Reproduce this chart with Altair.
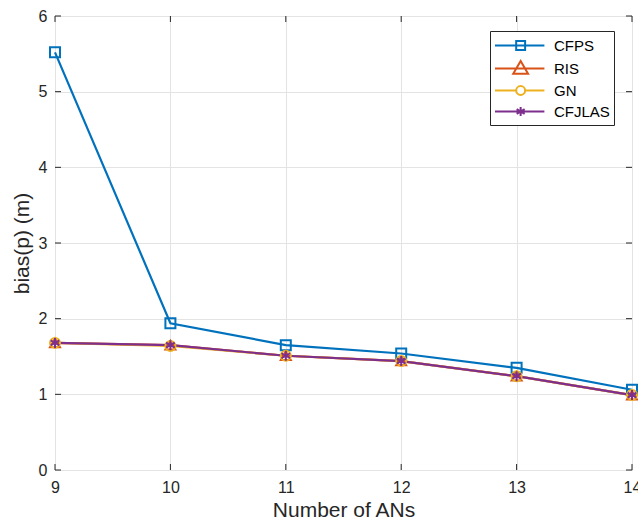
import altair as alt
import pandas as pd

x_vals = [9, 10, 11, 12, 13, 14]
series_names = ["CFPS", "RIS", "GN", "CFJLAS"]
cfps = [5.52, 1.94, 1.65, 1.54, 1.35, 1.06]
ris = [1.68, 1.65, 1.51, 1.44, 1.24, 0.99]
gn = [1.68, 1.64, 1.51, 1.44, 1.24, 0.99]
cfjlas = [1.68, 1.65, 1.51, 1.44, 1.24, 0.99]
colors = ["#0072BD", "#D95319", "#EDB120", "#7E2F8E"]
x_ticks = [9, 10, 11, 12, 13, 14]
y_ticks = [0, 1, 2, 3, 4, 5, 6]

rows = []
for name, vals in zip(series_names, [cfps, ris, gn, cfjlas]):
    for xv, yv in zip(x_vals, vals):
        rows.append({"x": xv, "y": yv, "series": name, "legend_series": name,
                     "order": series_names.index(name)})
df = pd.DataFrame(rows)

W, H = 577, 454
AX = "#262626"
FONT = "Liberation Sans"

asterisk = "M0,-1L0,1M-0.87,-0.5L0.87,0.5M-0.87,0.5L0.87,-0.5"
plot_shapes = ["square", "triangle-up", "circle", asterisk]

# legend symbols: line segment plus marker (unit = sqrt(size)/2)
leg_sq = "M-1,0L4.2,0M1.23,-0.47L2.17,-0.47L2.17,0.47L1.23,0.47Z"
leg_tri = "M-1,0L4.2,0M1.7,-0.8L2.48,0.55L0.92,0.55Z"
leg_circ = "M-1,0L1.23,0M2.17,0L4.2,0M1.23,0A0.47,0.47 0 1,0 2.17,0A0.47,0.47 0 1,0 1.23,0"
leg_ast = "M-1,0L4.2,0M1.7,-0.48L1.7,0.48M1.28,-0.24L2.12,0.24M1.28,0.24L2.12,-0.24"
legend_shapes = [leg_sq, leg_tri, leg_circ, leg_ast]

xscale = alt.Scale(domain=[9, 14], nice=False, zero=False)
yscale = alt.Scale(domain=[0, 6], nice=False)

xaxis = alt.Axis(values=x_ticks, title="Number of ANs", grid=True, gridColor="#e3e3e3",
                 gridWidth=1, tickSize=0, domain=False, labelPadding=9, labelFlush=False,
                 labelFontSize=16, labelColor=AX, labelFont=FONT,
                 titleFontSize=21, titleColor=AX, titleFont=FONT, titleFontWeight="normal",
                 titlePadding=4, format="d")
yaxis = alt.Axis(values=y_ticks, title="bias(p) (m)", grid=True, gridColor="#e3e3e3",
                 gridWidth=1, tickSize=0, domain=False, labelPadding=8, labelFlush=False,
                 labelFontSize=16, labelColor=AX, labelFont=FONT,
                 titleFontSize=21, titleColor=AX, titleFont=FONT, titleFontWeight="normal",
                 titlePadding=6, format="d")

color_plot = alt.Color("series:N", scale=alt.Scale(domain=series_names, range=colors), legend=None)

lines = alt.Chart(df).mark_line(strokeWidth=2.2).encode(
    x=alt.X("x:Q", scale=xscale, axis=xaxis),
    y=alt.Y("y:Q", scale=yscale, axis=yaxis),
    color=color_plot,
    detail="series:N",
    order="order:Q",
)

points = alt.Chart(df).mark_point(filled=False, strokeWidth=2, opacity=1, size=100).encode(
    x=alt.X("x:Q", scale=xscale),
    y=alt.Y("y:Q", scale=yscale),
    color=color_plot,
    shape=alt.Shape("series:N", scale=alt.Scale(domain=series_names, range=plot_shapes), legend=None),
)

leg_props = dict(title=None, orient="none", legendX=435, legendY=15,
                 labelFontSize=15, labelFont=FONT, labelColor="#000000",
                 symbolSize=361, symbolStrokeWidth=2, labelOffset=39,
                 rowPadding=2, padding=4, fillColor="white", strokeColor=AX)

legend_layer = alt.Chart(df).transform_filter("false").mark_point(
    filled=False, strokeWidth=2, opacity=1, size=361
).encode(
    x=alt.X("x:Q", scale=xscale),
    y=alt.Y("y:Q", scale=yscale),
    color=alt.Color("legend_series:N", scale=alt.Scale(domain=series_names, range=colors),
                    legend=alt.Legend(**leg_props)),
    shape=alt.Shape("legend_series:N", scale=alt.Scale(domain=series_names, range=legend_shapes),
                    legend=alt.Legend(**leg_props)),
)

tick_df_x = pd.DataFrame({"t": x_ticks})
tick_df_y = pd.DataFrame({"t": y_ticks})
TL = 6
xt_bottom = alt.Chart(tick_df_x).mark_rule(color=AX, strokeWidth=1).encode(
    x=alt.X("t:Q", scale=xscale), y=alt.value(H), y2=alt.value(H - TL))
xt_top = alt.Chart(tick_df_x).mark_rule(color=AX, strokeWidth=1).encode(
    x=alt.X("t:Q", scale=xscale), y=alt.value(0), y2=alt.value(TL))
yt_left = alt.Chart(tick_df_y).mark_rule(color=AX, strokeWidth=1).encode(
    y=alt.Y("t:Q", scale=yscale), x=alt.value(0), x2=alt.value(TL))
yt_right = alt.Chart(tick_df_y).mark_rule(color=AX, strokeWidth=1).encode(
    y=alt.Y("t:Q", scale=yscale), x=alt.value(W - TL), x2=alt.value(W))

chart = alt.layer(
    xt_bottom, xt_top, yt_left, yt_right, lines, points, legend_layer
).resolve_scale(color="independent", shape="independent").properties(
    width=W, height=H,
    autosize=alt.AutoSizeParams(type="none"),
    padding={"left": 55, "top": 16, "right": 6, "bottom": 57},
).configure_view(stroke=AX, strokeWidth=1.2).configure(background="white")

chart.save("out.html", embed_options={"renderer": "svg", "actions": False})
